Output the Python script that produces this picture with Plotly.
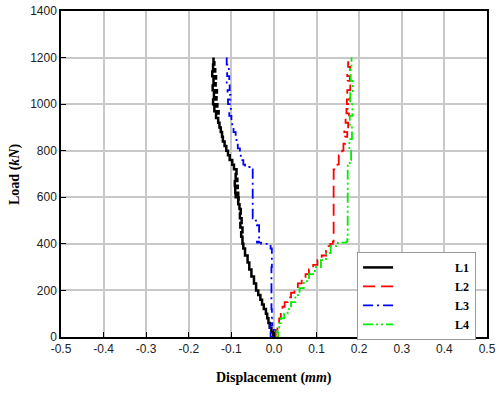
import plotly.graph_objects as go

# ---- data (load in kN, displacement in mm) ----
l1_load = [0, 20, 40, 60, 80, 100, 120, 140, 160, 180, 200, 230, 260, 290, 320, 350, 380, 400,
           430, 450, 470, 490, 510, 530, 550, 570, 590, 600, 610, 620, 640, 650, 670, 680, 700, 720,
           740, 760, 780, 800, 820, 840, 860, 880, 900, 920, 940, 960, 970, 990, 1000, 1020, 1030,
           1050, 1060, 1080, 1090, 1110, 1120, 1140, 1150, 1170, 1180, 1200]
l1_disp = [0.000, -0.002, -0.006, -0.010, -0.013, -0.016, -0.019, -0.024, -0.028, -0.032, -0.037,
           -0.042, -0.047, -0.053, -0.058, -0.062, -0.068, -0.072, -0.074, -0.077, -0.074, -0.079,
           -0.076, -0.080, -0.078, -0.081, -0.084, -0.083, -0.090, -0.084, -0.091, -0.085, -0.092,
           -0.086, -0.090, -0.088, -0.094, -0.098, -0.104, -0.108, -0.112, -0.116, -0.120, -0.122,
           -0.125, -0.128, -0.131, -0.136, -0.130, -0.140, -0.133, -0.143, -0.135, -0.141, -0.134,
           -0.144, -0.137, -0.142, -0.136, -0.145, -0.138, -0.143, -0.140, -0.142]

l2_load = [0, 30, 50, 80, 110, 130, 150, 170, 190, 210, 230, 250, 270, 290, 310, 330, 350, 370,
           390, 400, 410, 720, 740, 780, 800, 830, 860, 880, 900, 920, 940, 960, 980, 1000, 1020,
           1040, 1060, 1080, 1100, 1120, 1140, 1160, 1180, 1200]
l2_disp = [0.006, 0.004, 0.008, 0.012, 0.016, 0.020, 0.025, 0.032, 0.040, 0.048, 0.056, 0.065,
           0.074, 0.082, 0.092, 0.102, 0.112, 0.122, 0.128, 0.132, 0.138, 0.140, 0.146, 0.152,
           0.160, 0.163, 0.167, 0.172, 0.165, 0.174, 0.168, 0.176, 0.170, 0.177, 0.171, 0.178,
           0.172, 0.179, 0.173, 0.178, 0.172, 0.179, 0.174, 0.178]

l3_load = [0, 20, 30, 50, 60, 80, 120, 200, 300, 380, 400, 405, 410, 420, 480, 500, 510, 720, 730,
           740, 760, 790, 810, 840, 860, 880, 900, 930, 950, 980, 1000, 1020, 1040, 1060, 1080,
           1100, 1120, 1150, 1170, 1200]
l3_disp = [0.002, -0.008, 0.000, -0.010, -0.004, -0.006, -0.005, -0.006, -0.006, -0.005, -0.008,
           -0.030, -0.040, -0.033, -0.035, -0.040, -0.048, -0.050, -0.055, -0.068, -0.072, -0.078,
           -0.080, -0.085, -0.088, -0.090, -0.095, -0.098, -0.100, -0.105, -0.101, -0.108, -0.102,
           -0.109, -0.104, -0.111, -0.105, -0.110, -0.106, -0.111]

l4_load = [0, 20, 40, 60, 80, 100, 120, 150, 180, 210, 240, 270, 300, 330, 360, 390, 405, 410,
           420, 740, 760, 800, 850, 900, 950, 1000, 1050, 1100, 1150, 1200]
l4_disp = [0.006, 0.010, 0.008, 0.012, 0.016, 0.024, 0.032, 0.040, 0.050, 0.060, 0.070, 0.082,
           0.096, 0.110, 0.122, 0.133, 0.150, 0.170, 0.172, 0.173, 0.178, 0.181, 0.177, 0.183,
           0.178, 0.184, 0.179, 0.185, 0.180, 0.182]

x_ticks = [-0.5, -0.4, -0.3, -0.2, -0.1, 0.0, 0.1, 0.2, 0.3, 0.4, 0.5]
x_tick_text = ["-0.5", "-0.4", "-0.3", "-0.2", "-0.1", "0.0", "0.1", "0.2", "0.3", "0.4", "0.5"]
y_ticks = [0, 200, 400, 600, 800, 1000, 1200, 1400]

series = [
    ("L1", l1_disp, l1_load, "#000000", "solid", 2.5),
    ("L2", l2_disp, l2_load, "#ff0000", "12px,6px", 1.8),
    ("L3", l3_disp, l3_load, "#0000ff", "10px,4px,2px,4px", 1.8),
    ("L4", l4_disp, l4_load, "#00ee00", "10px,3px,2px,3px,2px,3px", 1.8),
]

pad = "\u00a0" * 19
fig = go.Figure()
for name, xd, yd, col, dash, w in series:
    fig.add_trace(go.Scatter(x=xd, y=yd, name=pad + "<b>" + name + "</b>", mode="lines",
                             line_shape="hv", line=dict(color=col, dash=dash, width=w)))

axis_common = dict(showline=True, linecolor="black", linewidth=1.5, mirror=True,
                   ticks="inside", ticklen=5, tickcolor="black", automargin=False,
                   ticklabeloverflow="allow",
                   showgrid=True, gridcolor="#c8c8c8", gridwidth=1.5, zeroline=False,
                   tickfont=dict(family="Liberation Sans, Arial", size=12, color="#222"))

fig.update_xaxes(range=[-0.5, 0.5], tickvals=x_ticks, ticktext=x_tick_text, **axis_common)
fig.update_yaxes(range=[0, 1400], tickvals=y_ticks, **axis_common)

title_font = dict(family="Liberation Serif, Times New Roman", size=14, color="black")
fig.add_annotation(text="<b>Displacement (<i>mm</i>)</b>", xref="paper", yref="paper",
                   x=0.5, y=-0.125, xanchor="center", yanchor="middle",
                   showarrow=False, font=title_font)
fig.add_annotation(text="<b>Load (<i>kN</i>)</b>", xref="paper", yref="paper",
                   x=-0.108, y=0.5, xanchor="center", yanchor="middle", textangle=-90,
                   showarrow=False, font=title_font)

fig.update_layout(
    width=500, height=393,
    margin=dict(l=61, r=13, t=11, b=56),
    paper_bgcolor="white", plot_bgcolor="white",
    legend=dict(x=0.695, y=0.261, xanchor="left", yanchor="top",
                bgcolor="white", bordercolor="#999999", borderwidth=1,
                font=dict(family="Liberation Serif, Times New Roman", size=12, color="black"),
                tracegroupgap=0),
    showlegend=True,
)

# remove the browser's default 8px body margin so the figure sits at the page origin
fig.write_html("out.html", config={"displayModeBar": False},
               post_script="document.body.style.margin='0px';")
